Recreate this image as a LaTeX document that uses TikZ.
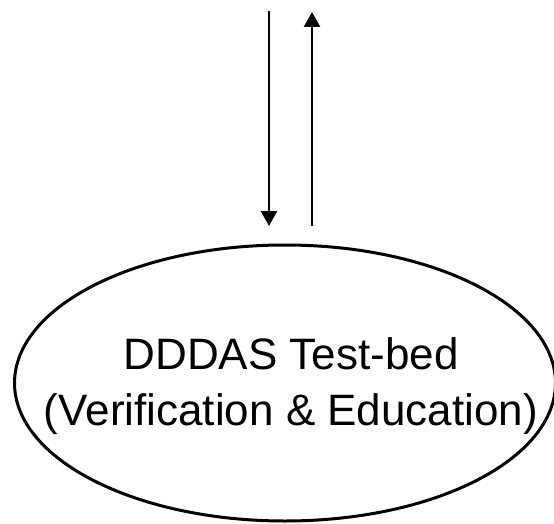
\documentclass[tikz,border=0pt]{standalone}
\usepackage{fontspec}
\setmainfont{Liberation Sans}
\usetikzlibrary{shapes.geometric,arrows.meta}
\begin{document}
\begin{tikzpicture}[x=1pt,y=1pt,
  flow/.style={line width=2.8pt,-{Triangle[width=16pt,length=15pt]}},
  bed/.style={ellipse,draw,line width=3pt,minimum width=541pt,minimum height=276pt,inner sep=0pt},
  bedtext/.style={align=center,inner sep=0pt,font=\fontsize{44}{56}\selectfont}]
\useasboundingbox (0,0) rectangle (554,523);
\node[bed] (tb) at (285,140) {};
\node[bedtext] (tbl) at (291,137) {DDDAS Test-bed\\(Verification \& Education)};
\coordinate (dtop) at (269,512);
\coordinate (dbot) at (269,297);
\coordinate (ubot) at (312,297);
\coordinate (utop) at (312,511);
\draw[flow] (dtop) -- (dbot);
\draw[flow] (ubot) -- (utop);
\end{tikzpicture}
\end{document}
